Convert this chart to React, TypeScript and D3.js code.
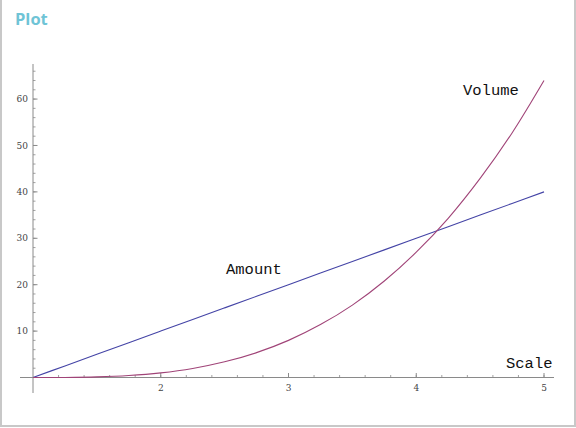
import React, { useEffect } from "react";
import * as d3 from "d3";

const scaleValues = [1, 1.25, 1.5, 1.75, 2, 2.25, 2.5, 2.75, 3, 3.25, 3.5, 3.75, 4, 4.25, 4.5, 4.75, 5];
const amountValues = [0, 2.5, 5, 7.5, 10, 12.5, 15, 17.5, 20, 22.5, 25, 27.5, 30, 32.5, 35, 37.5, 40];
const volumeValues = [0, 0.016, 0.125, 0.42, 1, 1.95, 3.375, 5.36, 8, 11.4, 15.6, 20.8, 27, 34.3, 42.9, 52.7, 64];
const xTickLabels = [2, 3, 4, 5];
const yTickLabels = [10, 20, 30, 40, 50, 60];
const xMinorTicks = d3.range(1.2, 5.01, 0.2);
const yMinorTicks = d3.range(2, 67, 2);

const W = 576;
const H = 428;

export default function App() {
  useEffect(() => {
    document.body.style.margin = "0";
  }, []);

  const x = d3.scaleLinear().domain([1, 5]).range([33, 544]);
  const y = d3.scaleLinear().domain([0, 64]).range([377.5, 80.5]);

  const line = d3
    .line<number>()
    .x((_, i) => x(scaleValues[i]))
    .y((d) => y(d))
    .curve(d3.curveCatmullRom.alpha(0.5));

  const axisColor = "#8a8a8a";
  const labelColor = "#444";
  const x0 = x(1);
  const y0 = y(0);

  return (
    <svg width={W} height={H} style={{ display: "block", background: "#fff" }}>
      {/* frame */}
      <line x1={1} y1={0} x2={1} y2={426} stroke="#c8c8c8" strokeWidth={2} />
      <line x1={575} y1={0} x2={575} y2={426} stroke="#c8c8c8" strokeWidth={2} />
      <line x1={0} y1={426} x2={576} y2={426} stroke="#c8c8c8" strokeWidth={2} />

      <text x={15} y={25} fill="#6fc4d6" fontFamily="'Open Sans', sans-serif" fontWeight={700} fontSize={16.5}>
        Plot
      </text>

      {/* axes */}
      <line x1={20} y1={y0} x2={554} y2={y0} stroke={axisColor} strokeWidth={1} />
      <line x1={x0} y1={393} x2={x0} y2={64} stroke={axisColor} strokeWidth={1} />

      {xMinorTicks.map((t, i) => (
        <line key={"xm" + i} x1={x(t)} x2={x(t)} y1={y0} y2={y0 - 2.5} stroke={axisColor} strokeWidth={0.8} />
      ))}
      {xTickLabels.map((t) => (
        <g key={"xt" + t}>
          <line x1={x(t)} x2={x(t)} y1={y0} y2={y0 - 4.5} stroke={axisColor} strokeWidth={1} />
          <text x={x(t)} y={391} textAnchor="middle" fontFamily="'DejaVu Serif', serif" fontSize={9} fill={labelColor}>
            {t}
          </text>
        </g>
      ))}

      {yMinorTicks.map((t, i) => (
        <line key={"ym" + i} x1={x0} x2={x0 + 2.5} y1={y(t)} y2={y(t)} stroke={axisColor} strokeWidth={0.8} />
      ))}
      {yTickLabels.map((t) => (
        <g key={"yt" + t}>
          <line x1={x0} x2={x0 + 4.5} y1={y(t)} y2={y(t)} stroke={axisColor} strokeWidth={1} />
          <text x={28} y={y(t) + 3.2} textAnchor="end" fontFamily="'DejaVu Serif', serif" fontSize={9} fill={labelColor}>
            {t}
          </text>
        </g>
      ))}

      {/* series */}
      <path d={line(amountValues) || ""} fill="none" stroke="#4444a6" strokeWidth={1.1} />
      <path d={line(volumeValues) || ""} fill="none" stroke="#a04478" strokeWidth={1.1} />

      {/* labels */}
      <g fontFamily="'Liberation Mono', monospace" fontSize={15.5} fill="#111">
        <text x={226} y={274}>Amount</text>
        <text x={463} y={95}>Volume</text>
        <text x={506} y={368}>Scale</text>
      </g>
    </svg>
  );
}
